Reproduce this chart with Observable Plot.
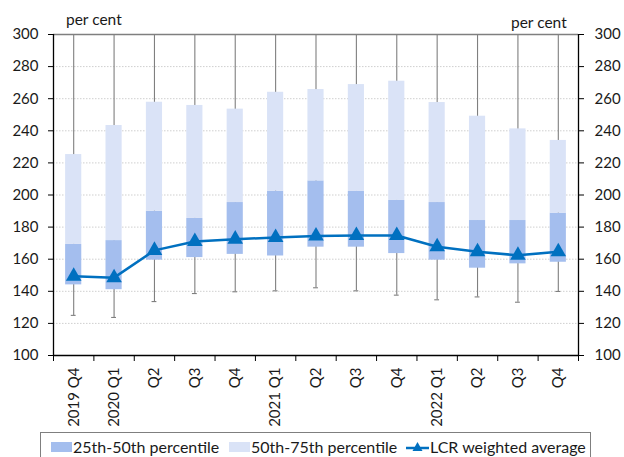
<!DOCTYPE html>
<html>
<head>
<meta charset="utf-8">
<script src="https://cdn.jsdelivr.net/npm/d3@7"></script>
<script src="https://cdn.jsdelivr.net/npm/@observablehq/plot@0.6"></script>
<style>
  body { margin: 0; background: #fff; font-family: Lato, "Open Sans", sans-serif; }
  #wrap { position: relative; width: 624px; height: 457px; overflow: hidden; }
  #legend { position: absolute; left: 40px; top: 432px; width: 551px; height: 30px; border: 1px solid #7f7f7f; box-sizing: border-box; font-size: 16px; color: #1a1a1a; background: #fff; }
  .item { position: absolute; top: 4px; display: flex; align-items: center; white-space: nowrap; }
  .sw { display: inline-block; width: 21px; height: 10px; margin-right: 1px; }
  .unit { position: absolute; font-size: 15.5px; color: #1a1a1a; }
</style>
</head>
<body>
<div id="wrap">
  <div id="chart"></div>
  <div class="unit" style="left:66px; top:10px;">per cent</div>
  <div class="unit" style="left:511px; top:13px;">per cent</div>
  <div id="legend">
    <div class="item" style="left:10px;"><span class="sw" style="background:#A4BEEE"></span>25th-50th percentile</div>
    <div class="item" style="left:188px;"><span class="sw" style="background:#DAE3F7"></span>50th-75th percentile</div>
    <div class="item" style="left:365px;"><svg width="23" height="14" style="margin-right:1px"><line x1="0" y1="8" x2="23" y2="8" stroke="#0070C0" stroke-width="2.5"/><path d="M11.5,2 L16.5,11 L6.5,11 Z" fill="#0070C0"/></svg>LCR weighted average</div>
  </div>
</div>
<script>
const periods = ["2019 Q4","2020 Q1","2020 Q2","2020 Q3","2020 Q4","2021 Q1","2021 Q2","2021 Q3","2021 Q4","2022 Q1","2022 Q2","2022 Q3","2022 Q4"];
const tickLabels = ["2019 Q4","2020 Q1","Q2","Q3","Q4","2021 Q1","Q2","Q3","Q4","2022 Q1","Q2","Q3","Q4"];
const p25 = [144, 141, 159.4, 161, 163, 162, 167.5, 167.5, 163.5, 159.4, 154.4, 157.1, 158.1];
const p50 = [169.2, 171.6, 189.9, 185.4, 195.3, 202.4, 208.8, 202.2, 196.6, 195.3, 184.1, 184.1, 188.7];
const p75 = [225.2, 243.3, 257.8, 255.8, 253.5, 264, 265.7, 268.8, 270.9, 257.6, 249.1, 241.2, 234];
const lowWhisker = [125, 123.7, 133.6, 138.6, 139.7, 140.3, 142.2, 140.3, 137.6, 134.7, 136.5, 133.2, 139.9];
// upper whiskers run off the top of the axis (clipped at 300)
const highWhisker = [300, 300, 300, 300, 300, 300, 300, 300, 300, 300, 300, 300, 300];
const lcrAvg = [149.4, 148.5, 165.5, 171, 172.5, 173.5, 174.5, 174.8, 174.8, 167.8, 164.7, 162.4, 164.6];
const yTicks = [100, 120, 140, 160, 180, 200, 220, 240, 260, 280, 300];

const data = periods.map((p, i) => ({
  i, period: p, p25: p25[i], p50: p50[i], p75: p75[i],
  low: lowWhisker[i], high: highWhisker[i], avg: lcrAvg[i]
}));
const idx = periods.map((_, i) => i);
const boundaries = d3.range(periods.length + 1).map(k => k - 0.5);
const halfBar = 0.2;
const halfCap = 0.06;

const plot = Plot.plot({
  width: 624,
  height: 432,
  marginTop: 34,
  marginBottom: 77,
  marginLeft: 53,
  marginRight: 46,
  style: { fontFamily: "Lato, 'Open Sans', sans-serif", fontSize: "15px", color: "#1a1a1a", background: "#fff" },
  x: { type: "linear", domain: [-0.5, periods.length - 0.5] },
  y: { domain: [100, 300] },
  marks: [
    Plot.ruleY(yTicks.filter(t => t > 100 && t < 300), { stroke: "#cfcfcf", strokeDasharray: "1.5,1.5", strokeWidth: 1 }),
    Plot.ruleX(data, { x: "i", y1: "low", y2: "high", stroke: "#7f7f7f", strokeWidth: 1.1 }),
    Plot.ruleY(data, { y: "low", x1: d => d.i - halfCap, x2: d => d.i + halfCap, stroke: "#7f7f7f", strokeWidth: 1.1 }),
    Plot.rectY(data, { x1: d => d.i - halfBar, x2: d => d.i + halfBar, y1: "p25", y2: "p50", fill: "#A4BEEE" }),
    Plot.rectY(data, { x1: d => d.i - halfBar, x2: d => d.i + halfBar, y1: "p50", y2: "p75", fill: "#DAE3F7" }),
    Plot.ruleY([300], { stroke: "#7f7f7f", strokeWidth: 1.3 }),
    Plot.ruleY([100], { stroke: "#000", strokeWidth: 1.3 }),
    Plot.ruleX([-0.5, periods.length - 0.5], { stroke: "#000", strokeWidth: 1.3 }),
    Plot.line(data, { x: "i", y: "avg", stroke: "#0070C0", strokeWidth: 2.5 }),
    Plot.dot(data, { x: "i", y: "avg", symbol: "triangle", fill: "#0070C0", r: 5.8 }),
    Plot.axisY(yTicks, { anchor: "left", tickSize: 5, tickPadding: 10, label: null, stroke: "#000", fill: "#1a1a1a", fontSize: 15 }),
    Plot.axisY(yTicks, { anchor: "right", tickSize: 5, tickPadding: 11, label: null, stroke: "#000", fill: "#1a1a1a", fontSize: 15 }),
    Plot.axisX(boundaries, { tickSize: 6, tickFormat: () => "", label: null, stroke: "#000" }),
    Plot.axisX(idx, { tickSize: 0, tickPadding: 12, tickRotate: -90, tickFormat: i => tickLabels[i], label: null, fill: "#1a1a1a", fontSize: 15 })
  ]
});
document.getElementById("chart").appendChild(plot);
</script>
</body>
</html>
